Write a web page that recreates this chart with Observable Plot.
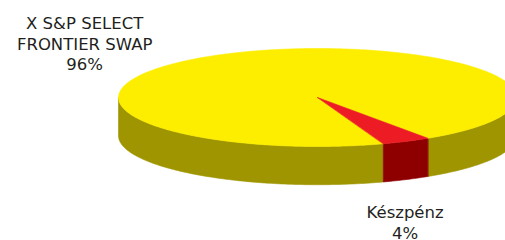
<!DOCTYPE html>
<html>
<head>
<meta charset="utf-8">
<script src="https://cdn.jsdelivr.net/npm/d3@7"></script>
<script src="https://cdn.jsdelivr.net/npm/@observablehq/plot@0.6"></script>
<style>
html,body{margin:0;padding:0;background:#fff;overflow:hidden;}
</style>
</head>
<body>
<div id="chart"></div>
<script>
const categories = ["X S&P SELECT\nFRONTIER SWAP", "Készpénz"];
const values = [96, 4];
const percentLabels = ["96%", "4%"];
const topColors = ["#FDEE00", "#ED1C24"];
const sideColors = ["#9E9500", "#8E0000"];

// layout
const depth = 0.78;            // side height in radius units (y)
const startDeg = 70.7;         // screen angle where first slice starts (clockwise from 3 o'clock)
const labelPos = [[-1.17, -1.11], [0.44, 2.54]];

const rad = Math.PI / 180;
const arcs = d3.pie().sort(null)
  .startAngle((startDeg + 90) * rad)
  .endAngle((startDeg + 90 + 360) * rad)(values);

const polys = [];
const sides = [];
let id = 0;
function arcPts(a0, a1, dy) {
  const n = Math.max(2, Math.ceil(Math.abs(a1 - a0) / (1 * rad)));
  const pts = [];
  for (let i = 0; i <= n; i++) {
    const t = a0 + (a1 - a0) * i / n;
    pts.push([Math.cos(t), Math.sin(t) + dy]);
  }
  return pts;
}
arcs.forEach((a, i) => {
  const s = a.startAngle - Math.PI / 2, e = a.endAngle - Math.PI / 2;
  for (let k = -1; k <= 2; k++) {
    const lo = Math.max(s, k * 2 * Math.PI), hi = Math.min(e, k * 2 * Math.PI + Math.PI);
    if (hi > lo) {
      const top = arcPts(lo, hi, 0);
      const bot = arcPts(hi, lo, depth);
      const pid = id++;
      top.concat(bot).forEach(p => sides.push({id: pid, x: p[0], y: p[1], color: sideColors[i]}));
    }
  }
  const pid = id++;
  [[0, 0]].concat(arcPts(s, e, 0)).forEach(p => polys.push({id: pid, x: p[0], y: p[1], color: topColors[i]}));
});

const labelData = categories.map((c, i) => ({text: c + "\n" + percentLabels[i], x: labelPos[i][0], y: labelPos[i][1]}));

const chart = Plot.plot({
  width: 505,
  height: 240,
  margin: 0,
  x: {domain: [-1, 1], range: [118, 516], axis: null},
  y: {domain: [-1, 1], range: [48, 146], axis: null},
  color: {type: "identity"},
  marks: [
    Plot.line(sides, {x: "x", y: "y", z: "id", fill: "color", stroke: "color", strokeWidth: 0.6, curve: "linear-closed", clip: "frame"}),
    Plot.line(polys, {x: "x", y: "y", z: "id", fill: "color", stroke: "color", strokeWidth: 0.6, curve: "linear-closed", clip: "frame"}),
    Plot.text(labelData, {x: "x", y: "y", text: "text", fill: "#231F20", fontSize: 16.5, lineHeight: 1.25, textAnchor: "middle", fontFamily: "DejaVu Sans"})
  ]
});
chart.style.overflow = "hidden";
document.getElementById("chart").appendChild(chart);
</script>
</body>
</html>
